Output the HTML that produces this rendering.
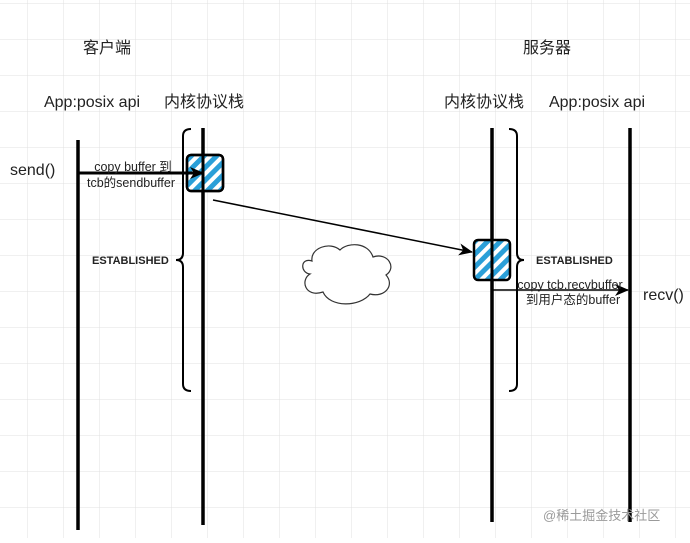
<!DOCTYPE html>
<html><head><meta charset="utf-8"><style>
body{margin:0;width:690px;height:538px;overflow:hidden;background:#fff;}
</style></head><body>
<svg width="690" height="538" xmlns="http://www.w3.org/2000/svg" font-family="Liberation Sans, Noto Sans CJK SC, sans-serif">
<defs>
<pattern id="g" width="36" height="36" patternUnits="userSpaceOnUse" x="27" y="3">
<path d="M0 0H36M0 0V36" stroke="#e0e0e0" stroke-width="1" fill="none"/>
</pattern>
<pattern id="h" width="9" height="9" patternUnits="userSpaceOnUse" patternTransform="rotate(45)">
<rect width="5" height="9" fill="#2a9fd8"/>
</pattern>
<marker id="a" markerWidth="14" markerHeight="14" refX="13" refY="7" orient="auto" markerUnits="userSpaceOnUse"><path d="M0 1L14 7L0 13L4 7Z" fill="#000"/></marker>
</defs>
<rect width="690" height="538" fill="url(#g)"/>
<g fill="#222" font-size="16">
<text x="107" y="53" text-anchor="middle">客户端</text>
<text x="547" y="53" text-anchor="middle">服务器</text>
<text x="92" y="107" text-anchor="middle">App:posix api</text>
<text x="204" y="107" text-anchor="middle">内核协议栈</text>
<text x="484" y="107" text-anchor="middle">内核协议栈</text>
<text x="597" y="107" text-anchor="middle">App:posix api</text>
<text x="10" y="175">send()</text>
<text x="643" y="300">recv()</text>
</g>
<g stroke="#000" stroke-width="3.5" fill="none">
<line x1="78" y1="140" x2="78" y2="530"/>
<line x1="203" y1="128" x2="203" y2="525"/>
<line x1="492" y1="128" x2="492" y2="522"/>
<line x1="630" y1="128" x2="630" y2="522"/>
</g>
<g stroke="#000" stroke-width="2" fill="none">
<path d="M191 129Q183 129 183 136V253Q183 260 176 260Q183 260 183 267V384Q183 391 191 391"/>
<path d="M509 129Q517 129 517 136V253Q517 260 524 260Q517 260 517 267V384Q517 391 509 391"/>
</g>
<rect x="187" y="155" width="36" height="36" rx="4" fill="#fff" stroke="#000" stroke-width="2.5"/>
<rect x="188" y="156" width="34" height="34" fill="url(#h)"/>
<rect x="187" y="155" width="36" height="36" rx="4" fill="none" stroke="#000" stroke-width="2.5"/>
<line x1="203" y1="155" x2="203" y2="192" stroke="#000" stroke-width="3"/>
<rect x="474" y="240" width="36" height="40" rx="4" fill="#fff"/>
<rect x="475" y="241" width="34" height="38" fill="url(#h)"/>
<rect x="474" y="240" width="36" height="40" rx="4" fill="none" stroke="#000" stroke-width="2.5"/>
<line x1="492" y1="240" x2="492" y2="280" stroke="#000" stroke-width="3"/>
<line x1="78" y1="173" x2="203" y2="173" stroke="#000" stroke-width="3" marker-end="url(#a)"/>
<line x1="213" y1="200" x2="472" y2="252" stroke="#000" stroke-width="1.5" marker-end="url(#a)"/>
<line x1="492" y1="290" x2="628" y2="290" stroke="#000" stroke-width="1.5" marker-end="url(#a)"/>
<path d="M312 261C300 257 300 273 310 274C300 280 305 298 323 292C330 308 360 307 370 294C385 298 395 285 386 275C397 268 388 252 373 257C368 242 348 242 340 250C330 241 310 248 312 261Z" fill="#fff" stroke="#333" stroke-width="1.2"/>
<g fill="#222" font-size="12.5">
<text x="133" y="171" text-anchor="middle">copy buffer 到</text>
<text x="131" y="187" text-anchor="middle">tcb的sendbuffer</text>
<text x="570" y="289" text-anchor="middle">copy tcb.recvbuffer</text>
<text x="573" y="304" text-anchor="middle">到用户态的buffer</text>
</g>
<g fill="#222" font-size="11" font-weight="bold">
<text x="92" y="264">ESTABLISHED</text>
<text x="536" y="264">ESTABLISHED</text>
</g>
<text x="543" y="520" font-size="13" fill="#9a9a9a">@稀土掘金技术社区</text>
</svg>
</body></html>
